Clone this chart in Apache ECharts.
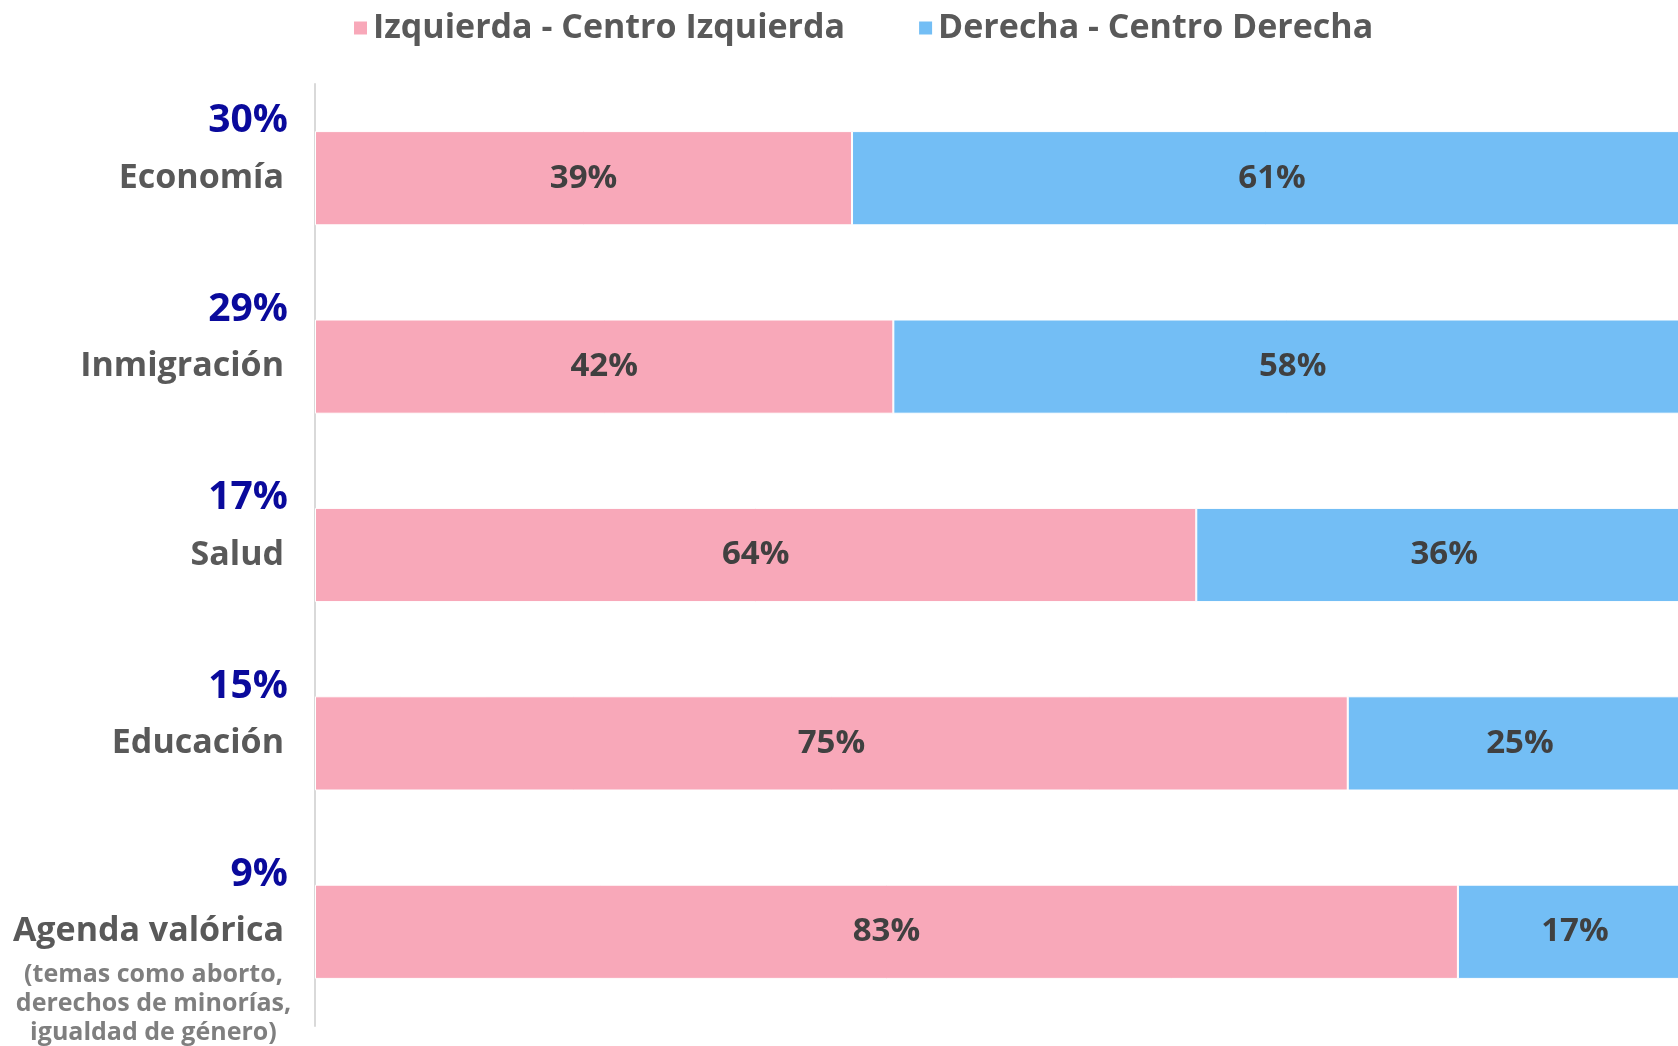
<!DOCTYPE html>
<html>
<head>
<meta charset="utf-8">
<script src="https://cdn.jsdelivr.net/npm/echarts@6/dist/echarts.min.js"></script>
<style>
  html, body { margin: 0; padding: 0; background: #fff; }
  #chart { width: 1678px; height: 1046px; }
</style>
</head>
<body>
<div id="chart"></div>
<script>
// datos del gráfico
const categories = ["Economía", "Inmigración", "Salud", "Educación", "Agenda valórica"];
const agendaNote = ["(temas como aborto,", "derechos de minorías,", "igualdad de género)"];
const importance = [30, 29, 17, 15, 9];
const izquierda = [39, 42, 64, 75, 83];
const derecha = [61, 58, 36, 25, 17];
const seriesNames = ["Izquierda - Centro Izquierda", "Derecha - Centro Derecha"];

const FONT = "Open Sans";
const chart = echarts.init(document.getElementById("chart"));

// etiqueta del eje: % arriba, nombre centrado en la barra
const yLabel = (value, index) => {
  const pct = "{pct|" + importance[index] + "%}";
  const name = "{name|" + value + "}";
  if (index === categories.length - 1) {
    return ["{gap2| }", pct, name].concat(agendaNote.map((t) => "{sub|" + t + "}")).join("\n");
  }
  return [pct, name, "{gap| }"].join("\n");
};

const barLabel = {
  show: true,
  position: "inside",
  formatter: "{c}%",
  color: "#404040",
  fontFamily: FONT,
  fontWeight: "bold",
  fontSize: 33,
};

const option = {
  animation: false,
  legend: {
    top: 6,
    left: 347,
    icon: "rect",
    itemWidth: 15,
    itemHeight: 15,
    itemGap: 72,
    data: seriesNames,
    textStyle: {
      color: "#595959",
      fontFamily: FONT,
      fontWeight: "bold",
      fontSize: 34,
    },
  },
  grid: {
    top: 84,
    bottom: 20,
    left: 315,
    width: 1377, // las barras siguen un poco más allá del borde
    containLabel: false,
    outerBoundsMode: "none",
  },
  xAxis: {
    type: "value",
    min: 0,
    max: 100,
    show: false,
  },
  yAxis: {
    type: "category",
    inverse: true,
    data: categories,
    axisLine: { show: true, lineStyle: { color: "#d9d9d9", width: 2 } },
    axisTick: { show: false },
    axisLabel: {
      margin: 21,
      formatter: yLabel,
      rich: {
        pct: {
          color: "#0a0a9c",
          fontFamily: FONT,
          fontWeight: "bold",
          fontSize: 39,
          lineHeight: 57,
          align: "right",
          padding: [0, 6, 0, 0],
        },
        name: {
          color: "#595959",
          fontFamily: FONT,
          fontWeight: "bold",
          fontSize: 34,
          lineHeight: 57,
          align: "right",
          padding: [0, 10, 0, 0],
        },
        sub: {
          color: "#7f7f7f",
          fontFamily: FONT,
          fontWeight: "bold",
          fontSize: 25,
          lineHeight: 29,
          align: "center",
        },
        gap: { fontSize: 10, lineHeight: 57 },
        gap2: { fontSize: 10, lineHeight: 30 },
      },
    },
  },
  series: [
    {
      name: seriesNames[0],
      type: "bar",
      stack: "total",
      barWidth: "50%",
      data: izquierda,
      itemStyle: { color: "#f8a8b9", borderColor: "#ffffff", borderWidth: 1 },
      label: barLabel,
    },
    {
      name: seriesNames[1],
      type: "bar",
      stack: "total",
      barWidth: "50%",
      data: derecha,
      itemStyle: { color: "#73bef5", borderColor: "#ffffff", borderWidth: 1 },
      label: barLabel,
    },
  ],
};

chart.setOption(option);
</script>
</body>
</html>
